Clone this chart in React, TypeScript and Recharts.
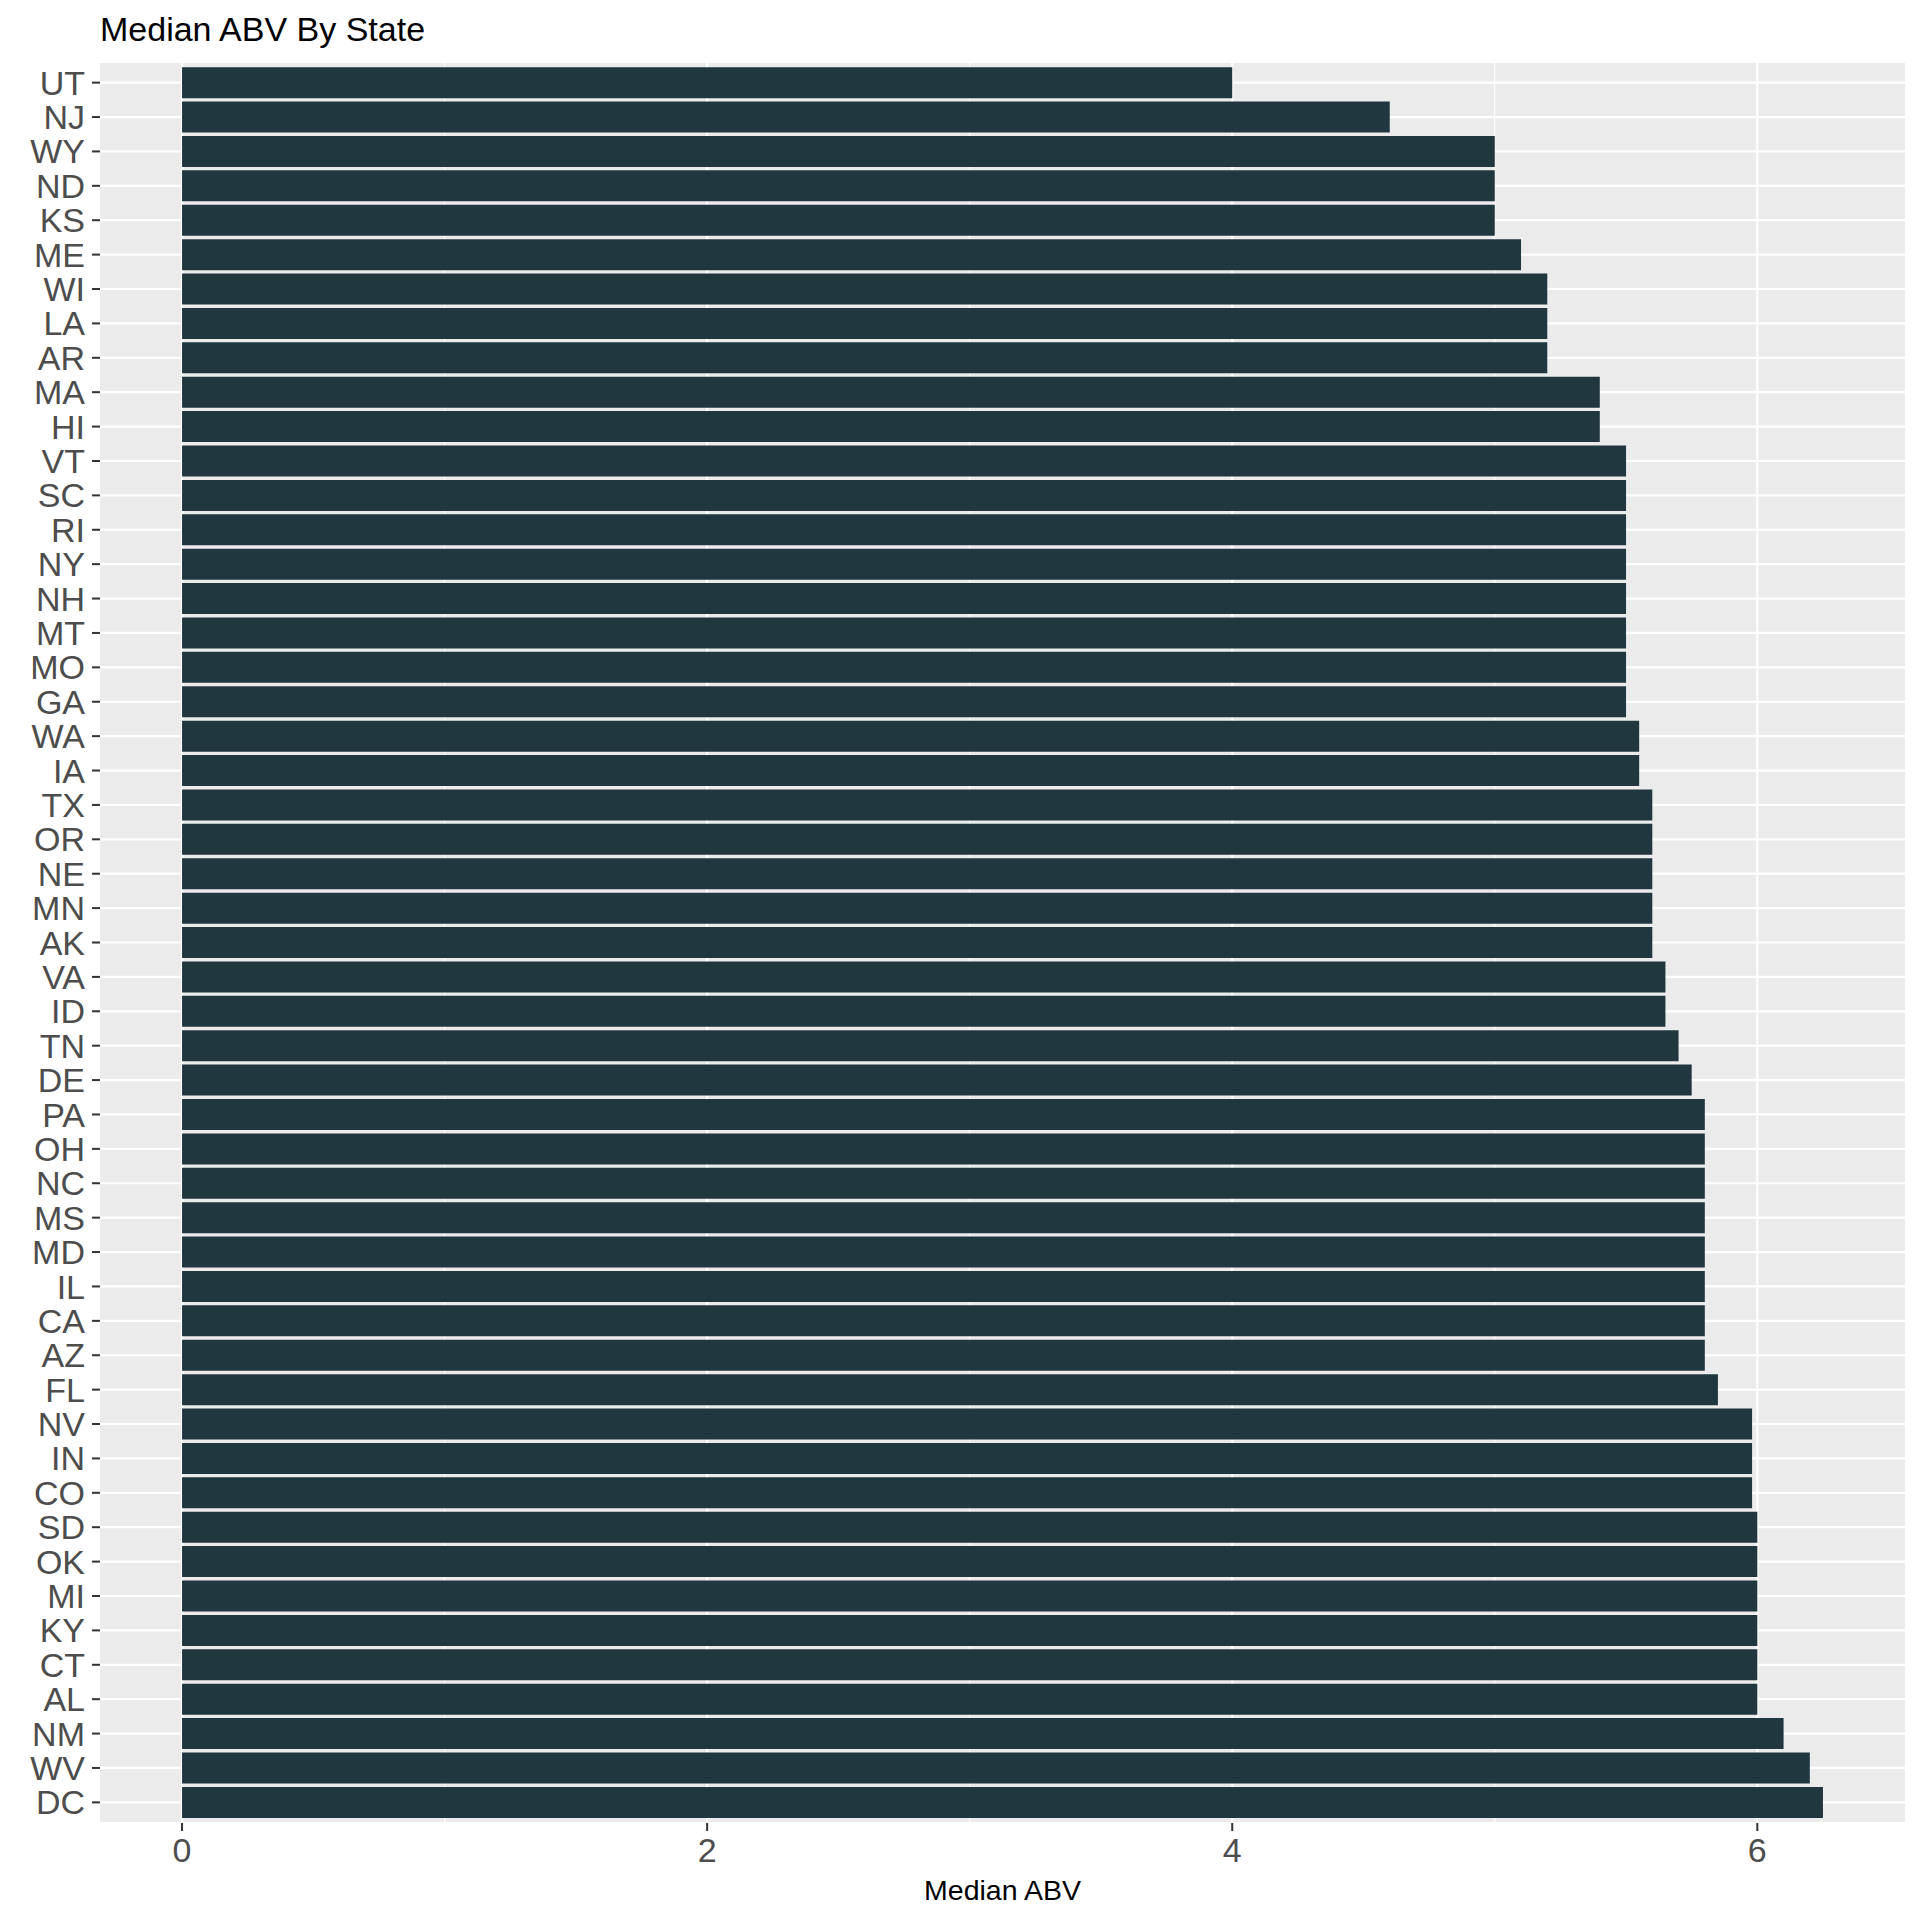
import React from 'react';
import { BarChart, Bar, XAxis, YAxis, CartesianGrid } from 'recharts';

// states, top to bottom as drawn
const states = [
  'UT', 'NJ', 'WY', 'ND', 'KS', 'ME', 'WI', 'LA', 'AR', 'MA', 'HI', 'VT', 'SC',
  'RI', 'NY', 'NH', 'MT', 'MO', 'GA', 'WA', 'IA', 'TX', 'OR', 'NE', 'MN', 'AK',
  'VA', 'ID', 'TN', 'DE', 'PA', 'OH', 'NC', 'MS', 'MD', 'IL', 'CA', 'AZ', 'FL',
  'NV', 'IN', 'CO', 'SD', 'OK', 'MI', 'KY', 'CT', 'AL', 'NM', 'WV', 'DC',
];

const medianAbv = [
  4.0, 4.6, 5.0, 5.0, 5.0, 5.1, 5.2, 5.2, 5.2, 5.4, 5.4, 5.5, 5.5,
  5.5, 5.5, 5.5, 5.5, 5.5, 5.5, 5.55, 5.55, 5.6, 5.6, 5.6, 5.6, 5.6,
  5.65, 5.65, 5.7, 5.75, 5.8, 5.8, 5.8, 5.8, 5.8, 5.8, 5.8, 5.8, 5.85,
  5.98, 5.98, 5.98, 6.0, 6.0, 6.0, 6.0, 6.0, 6.0, 6.1, 6.2, 6.25,
];

const majorTicks = [0, 2, 4, 6];
const minorTicks = [1, 3, 5];

const data = states.map((s, i) => ({ state: s, abv: medianAbv[i] }));

const font = '"Liberation Sans", Arial, sans-serif';
const barColor = '#213740';
const panelBg = '#EBEBEB';

// ggplot-style 5% expansion on the continuous axis
const maxVal = Math.max(...medianAbv);
const pad = maxVal * 0.05;

export default function App() {
  return (
    <div style={{ position: 'absolute', left: 0, top: 0, width: 1920, height: 1920, background: '#fff', fontFamily: font }}>
      <div style={{ position: 'absolute', left: 100, top: 12, fontSize: 34, lineHeight: '34px', color: '#000' }}>
        Median ABV By State
      </div>
      <BarChart
        width={1920}
        height={1920}
        data={data}
        layout="vertical"
        margin={{ top: 62, right: 15, bottom: 37, left: 0 }}
        barCategoryGap="5%"
      >
        <CartesianGrid
          fill={panelBg}
          fillOpacity={1}
          horizontal={false}
          verticalValues={minorTicks}
          stroke="#ffffff"
          strokeWidth={1.1}
        />
        <CartesianGrid
          verticalValues={majorTicks}
          stroke="#ffffff"
          strokeWidth={2.2}
        />
        <XAxis
          type="number"
          dataKey="abv"
          domain={[-pad, maxVal + pad]}
          allowDataOverflow
          ticks={majorTicks}
          height={60}
          axisLine={false}
          tickSize={8}
          tickMargin={7}
          tickLine={{ stroke: '#333333', strokeWidth: 2 }}
          tick={{ fill: '#4D4D4D', fontSize: 34, fontFamily: font }}
        />
        <YAxis
          type="category"
          dataKey="state"
          width={100}
          padding={{ top: 3.44, bottom: 3.44 }}
          interval={0}
          axisLine={false}
          tickSize={8}
          tickMargin={7}
          tickLine={{ stroke: '#333333', strokeWidth: 2 }}
          tick={{ fill: '#4D4D4D', fontSize: 34, fontFamily: font }}
        />
        <Bar dataKey="abv" fill={barColor} isAnimationActive={false} />
      </BarChart>
      <div style={{ position: 'absolute', left: 100, top: 1876, width: 1805, textAlign: 'center', fontSize: 28.5, lineHeight: '28px', color: '#000' }}>
        Median ABV
      </div>
    </div>
  );
}
